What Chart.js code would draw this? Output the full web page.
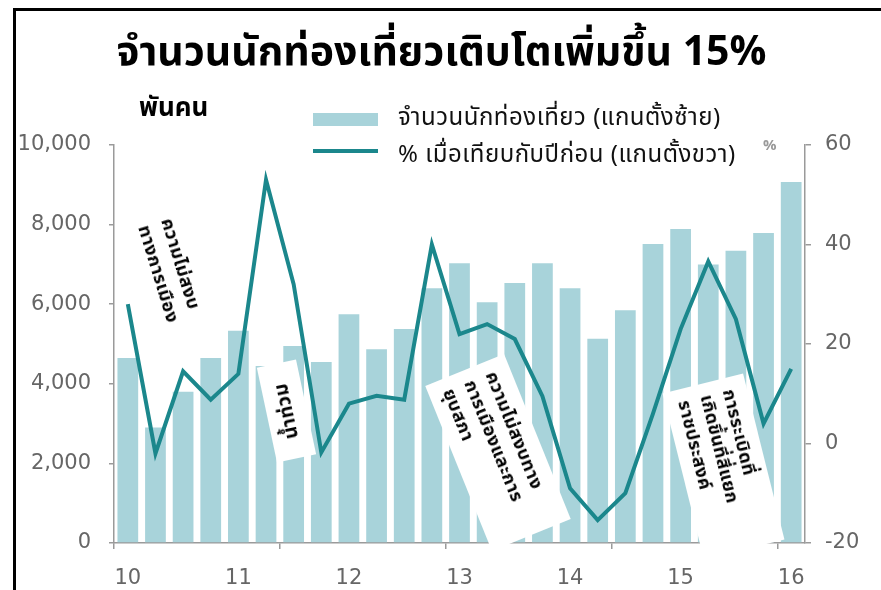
<!DOCTYPE html>
<html>
<head>
<meta charset="utf-8">
<script src="https://cdn.jsdelivr.net/npm/chart.js@4.4.0/dist/chart.umd.min.js"></script>
<style>
  html, body { margin: 0; padding: 0; background: #fff; }
  body { width: 881px; height: 590px; position: relative; overflow: hidden; font-family: "Noto Sans Thai", Tahoma, "Noto Sans", sans-serif; }
  #frame { position: absolute; left: 13px; top: 8px; width: 900px; height: 620px; border-left: 3px solid #000; border-top: 3px solid #000; }
  #chart { position: absolute; left: 0; top: 0; }
  .title { position: absolute; left: 0; width: 883px; top: 27px; text-align: center; font-size: 41px; font-weight: bold; color: #000; line-height: 50px; }
  .unit { position: absolute; left: 139px; top: 88px; font-size: 26px; font-weight: bold; color: #000; }
  .pct { position: absolute; left: 763px; top: 134px; font-size: 15px; font-weight: bold; color: #999; }
  .legend { position: absolute; left: 300px; top: 100px; width: 460px; height: 72px; background: #fff; }
  .sw-bar { position: absolute; left: 13px; top: 13px; width: 65px; height: 13px; background: #a8d3da; }
  .sw-line { position: absolute; left: 13px; top: 49px; width: 65px; height: 4px; background: #1b878c; }
  .lg-text { position: absolute; left: 98px; font-size: 24px; letter-spacing: 0.5px; color: #111; white-space: nowrap; line-height: 30px; }
  .note { position: absolute; background: #fff; font-weight: bold; color: #000; font-size: 18px; letter-spacing: 0.4px; box-sizing: border-box; display: flex; flex-direction: column; justify-content: center; white-space: nowrap; }
</style>
</head>
<body>
<div id="frame"></div>
<canvas id="chart" width="881" height="590"></canvas>

<div class="title">จำนวนนักท่องเที่ยวเติบโตเพิ่มขึ้น 15%</div>
<div class="unit">พันคน</div>
<div class="legend">
  <div class="sw-bar"></div>
  <div class="sw-line"></div>
  <div class="lg-text" style="top:3px">จำนวนนักท่องเที่ยว (แกนตั้งซ้าย)</div>
  <div class="lg-text" style="top:40px">% เมื่อเทียบกับปีก่อน (แกนตั้งขวา)</div>
</div>
<div class="pct">%</div>

<div class="note" style="left:96px; top:243px; width:150px; height:68px; transform:rotate(73deg); padding-left:18px; line-height:24px;">ความไม่สงบ<br>ทางการเมือง</div>
<div class="note" style="left:238px; top:391px; width:97px; height:40px; transform:rotate(-102deg); align-items:center; font-size:19px;">น้ำท่วม</div>
<div class="note" style="left:409px; top:410px; width:178px; height:85px; transform:rotate(68deg); padding-left:12px; line-height:23px;">ความไม่สงบทาง<br>การเมืองและการ<br>ยุบสภา</div>
<div class="note" style="left:638px; top:425px; width:171px; height:83px; transform:rotate(76deg); padding-left:12px; line-height:23px;">การระเบิดที่<br>เกิดขึ้นที่สี่แยก<br>ราชประสงค์</div>

<script>
// quarterly, Q1 2010 .. Q1 2016
const years = ['10', '11', '12', '13', '14', '15', '16'];
const tourists = [4650, 2900, 3800, 4650, 5330, 4450, 4950, 4550, 5750, 4870, 5380, 6400,
                  7030, 6050, 6530, 7030, 6400, 5130, 5850, 7510, 7890, 7000, 7340, 7790, 9070];
const growth = [28, -2, 14.5, 8.8, 14, 53, 32, -1.8, 8, 9.6, 8.8, 40,
                22, 24, 21, 9.5, -9, -15.4, -10, 6, 23, 36.6, 25, 4, 15];
const leftTicks = [0, 2000, 4000, 6000, 8000, 10000];
const rightTicks = [-20, 0, 20, 40, 60];

const quarters = tourists.map((v, i) => (i % 4 === 0 ? years[i / 4] : ''));

const axisGrey = '#9a9a9a';
const labelGrey = '#666';
const tickFont = { family: 'DejaVu Sans', size: 21 };

new Chart(document.getElementById('chart'), {
    type: 'bar',
    data: {
        labels: quarters,
        datasets: [
            {
                type: 'line',
                data: growth,
                yAxisID: 'y1',
                borderColor: '#1b878c',
                borderWidth: 4,
                pointRadius: 0,
                tension: 0,
                order: 0
            },
            {
                type: 'bar',
                data: tourists,
                yAxisID: 'y',
                backgroundColor: '#a8d3da',
                barPercentage: 0.75,
                categoryPercentage: 1.0,
                order: 1
            }
        ]
    },
    options: {
        responsive: false,
        animation: false,
        layout: { padding: { top: 145, left: 0, right: 0, bottom: 0 } },
        plugins: { legend: { display: false }, tooltip: { enabled: false } },
        scales: {
            x: {
                offset: true,
                grid: {
                    offset: true,
                    drawOnChartArea: false,
                    tickLength: 6,
                    lineWidth: 1.5,
                    tickColor: (ctx) => (ctx.index % 6 === 0 ? axisGrey : 'rgba(0,0,0,0)')
                },
                border: { color: axisGrey, width: 1.5 },
                ticks: { autoSkip: false, maxRotation: 0, color: labelGrey, font: tickFont, padding: 17 },
                afterFit: (s) => { s.height = 47; }
            },
            y: {
                position: 'left',
                min: 0,
                max: 10000,
                afterBuildTicks: (s) => { s.ticks = leftTicks.map(v => ({ value: v })); },
                grid: { drawOnChartArea: false, tickLength: 5, color: axisGrey, lineWidth: 1.5 },
                border: { color: axisGrey, width: 1.5 },
                ticks: { color: labelGrey, font: tickFont, padding: 18, callback: (v) => v.toLocaleString('en-US') },
                afterFit: (s) => { s.width = 114; }
            },
            y1: {
                position: 'right',
                min: -20,
                max: 60,
                afterBuildTicks: (s) => { s.ticks = rightTicks.map(v => ({ value: v })); },
                grid: { drawOnChartArea: false, tickLength: 6, color: axisGrey, lineWidth: 1.5 },
                border: { color: axisGrey, width: 1.5 },
                ticks: { color: labelGrey, font: tickFont, padding: 14 },
                afterFit: (s) => { s.width = 76; }
            }
        }
    }
});
</script>
</body>
</html>
